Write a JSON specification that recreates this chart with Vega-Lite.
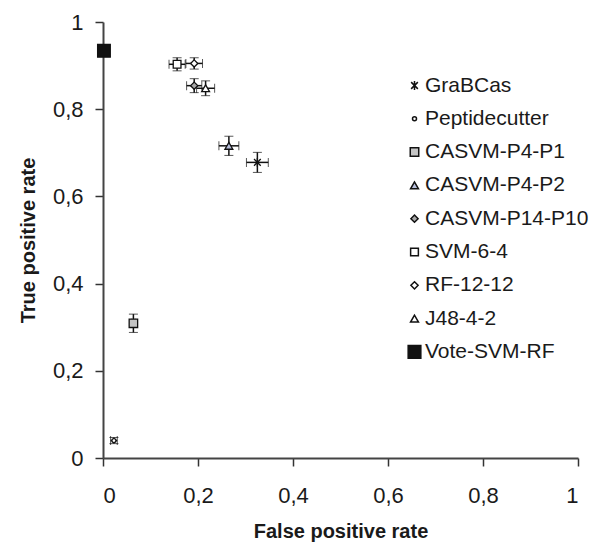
{
  "$schema": "https://vega.github.io/schema/vega-lite/v6.json",
  "width": 475,
  "height": 436,
  "autosize": "none",
  "padding": {"left": 103, "top": 22, "right": 22, "bottom": 99},
  "background": "white",
  "config": {
    "view": {"stroke": null},
    "font": "Liberation Sans",
    "axis": {
      "grid": false,
      "domainColor": "#444444",
      "domainWidth": 2,
      "tickColor": "#333333",
      "tickWidth": 1.5,
      "tickSize": 8,
      "labelFont": "Liberation Sans",
      "labelFontSize": 22,
      "labelColor": "#1a1a1a",
      "titleFont": "Liberation Sans",
      "titleFontSize": 20,
      "titleFontWeight": "bold",
      "titleColor": "#1a1a1a"
    },
    "legend": {
      "orient": "none",
      "legendX": 301,
      "legendY": 53,
      "padding": 0,
      "labelFontSize": 21,
      "labelFont": "Liberation Sans",
      "labelColor": "#1a1a1a",
      "labelOffset": 0,
      "labelLimit": 300,
      "rowPadding": 11.3
    }
  },
  "data": {
    "values": [
      {"method": "GraBCas", "fpr": 0.325, "tpr": 0.678, "ex": 0.023, "ey": 0.023},
      {"method": "Peptidecutter", "fpr": 0.023, "tpr": 0.040, "ex": 0.007, "ey": 0.007},
      {"method": "CASVM-P4-P1", "fpr": 0.064, "tpr": 0.309, "ex": 0.004, "ey": 0.021},
      {"method": "CASVM-P4-P2", "fpr": 0.265, "tpr": 0.716, "ex": 0.021, "ey": 0.022},
      {"method": "CASVM-P14-P10", "fpr": 0.192, "tpr": 0.854, "ex": 0.016, "ey": 0.016},
      {"method": "SVM-6-4", "fpr": 0.156, "tpr": 0.903, "ex": 0.017, "ey": 0.015},
      {"method": "RF-12-12", "fpr": 0.192, "tpr": 0.905, "ex": 0.0175, "ey": 0.013},
      {"method": "J48-4-2", "fpr": 0.216, "tpr": 0.848, "ex": 0.019, "ey": 0.017},
      {"method": "Vote-SVM-RF", "fpr": 0.002, "tpr": 0.934, "ex": 0, "ey": 0}
    ]
  },
  "encoding": {
    "x": {"field": "fpr", "type": "quantitative", "scale": {"domain": [0, 1]},
      "axis": {"values": [0, 0.2, 0.4, 0.6, 0.8, 1], "title": "False positive rate", "labelPadding": 19, "titlePadding": 15,
        "labelExpr": "replace(format(datum.value, '~g'), '.', ',')"}},
    "y": {"field": "tpr", "type": "quantitative", "scale": {"domain": [0, 1]},
      "axis": {"values": [0, 0.2, 0.4, 0.6, 0.8, 1], "title": "True positive rate", "labelPadding": 12, "titlePadding": 14,
        "labelExpr": "replace(format(datum.value, '~g'), '.', ',')"}}
  },
  "layer": [
    {
      "mark": {"type": "errorbar", "ticks": {"size": 9, "color": "#111111", "strokeWidth": 1.5}, "rule": {"color": "#111111", "strokeWidth": 1.5}},
      "encoding": {
        "xError": {"field": "ex"}
      }
    },
    {
      "mark": {"type": "errorbar", "ticks": {"size": 9, "color": "#111111", "strokeWidth": 1.5}, "rule": {"color": "#111111", "strokeWidth": 1.5}},
      "encoding": {
        "yError": {"field": "ey"}
      }
    },
    {
      "mark": {"type": "point", "filled": true, "stroke": "#111111", "strokeWidth": 1.3, "opacity": 1},
      "encoding": {
        "shape": {
          "field": "method", "type": "nominal",
          "scale": {
            "domain": ["GraBCas", "Peptidecutter", "CASVM-P4-P1", "CASVM-P4-P2", "CASVM-P14-P10", "SVM-6-4", "RF-12-12", "J48-4-2", "Vote-SVM-RF"],
            "range": ["M-0.75,-0.75L0.75,0.75M-0.75,0.75L0.75,-0.75M0,-1L0,1", "circle", "square", "triangle-up", "diamond", "square", "diamond", "triangle-up", "square"]
          },
          "legend": {"title": null,
            "encode": {"symbols": {"update": {"stroke": {"value": "#111111"}, "strokeWidth": {"value": 1.2}}}}}
        },
        "fill": {
          "field": "method", "type": "nominal",
          "scale": {
            "domain": ["GraBCas", "Peptidecutter", "CASVM-P4-P1", "CASVM-P4-P2", "CASVM-P14-P10", "SVM-6-4", "RF-12-12", "J48-4-2", "Vote-SVM-RF"],
            "range": ["#111111", "#ffffff", "#c4c4c4", "#b8bfdc", "#a8a8a8", "#ffffff", "#ffffff", "#ffffff", "#111111"]
          },
          "legend": {"title": null,
            "encode": {"symbols": {"update": {"stroke": {"value": "#111111"}, "strokeWidth": {"value": 1.2}}}}}
        },
        "size": {
          "field": "method", "type": "nominal",
          "scale": {
            "type": "ordinal",
            "domain": ["GraBCas", "Peptidecutter", "CASVM-P4-P1", "CASVM-P4-P2", "CASVM-P14-P10", "SVM-6-4", "RF-12-12", "J48-4-2", "Vote-SVM-RF"],
            "range": [80, 16, 72, 62, 52, 60, 52, 62, 160]
          },
          "legend": {"title": null,
            "encode": {"symbols": {"update": {"stroke": {"value": "#111111"}, "strokeWidth": {"value": 1.2}}}}}
        }
      }
    }
  ]
}
